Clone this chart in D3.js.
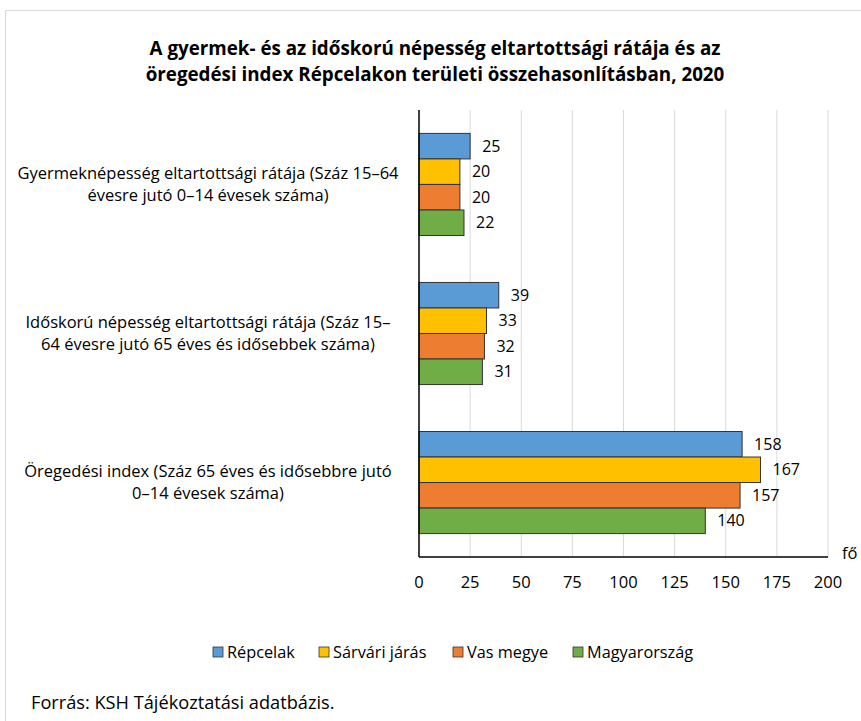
<!DOCTYPE html>
<html>
<head>
<meta charset="utf-8">
<script src="https://cdnjs.cloudflare.com/ajax/libs/d3/7.8.5/d3.min.js"></script>
<style>
  body { margin: 0; background: #fff; }
  svg text { font-family: "Open Sans", "Noto Sans", sans-serif; fill: #000; }
</style>
</head>
<body>
<svg id="chart" width="861" height="721"></svg>
<script>
var categories = [
  ["Gyermeknépesség eltartottsági rátája (Száz 15–64", "évesre jutó 0–14 évesek száma)"],
  ["Időskorú népesség eltartottsági rátája (Száz  15–", "64 évesre jutó 65 éves és idősebbek száma)"],
  ["Öregedési index (Száz 65 éves és idősebbre jutó", "0–14 évesek száma)"]
];
var seriesNames = ["Répcelak", "Sárvári járás", "Vas megye", "Magyarország"];
var seriesColors = ["#5B9BD5", "#FFC000", "#ED7D31", "#70AD47"];
var values = [
  [25, 20, 20, 22],
  [39, 33, 32, 31],
  [158, 167, 157, 140]
];
var xTicks = [0, 25, 50, 75, 100, 125, 150, 175, 200];

var svg = d3.select("#chart");

// chart frame
svg.append("rect")
  .attr("x", 5.5).attr("y", 10.5)
  .attr("width", 900).attr("height", 800)
  .attr("fill", "none").attr("stroke", "#d9d9d9");

var margin = {left: 419, right: 33, top: 110, bottom: 164};
var width = 861 - margin.left - margin.right;
var height = 721 - margin.top - margin.bottom;

var x = d3.scaleLinear().domain([0, 200]).range([0, width]);
var y0 = d3.scaleBand().domain(d3.range(categories.length)).range([0, height]).paddingInner(0.315).paddingOuter(0.157);
var y1 = d3.scaleBand().domain(d3.range(seriesNames.length)).range([0, y0.bandwidth()]);

var g = svg.append("g").attr("transform", "translate(" + margin.left + "," + margin.top + ")");

// gridlines
g.selectAll("line.grid").data(xTicks.slice(1)).enter().append("line")
  .attr("class", "grid")
  .attr("x1", function(d) { return x(d); }).attr("x2", function(d) { return x(d); })
  .attr("y1", 0).attr("y2", height)
  .attr("stroke", "#d9d9d9").attr("stroke-width", 1);

// bars
var groups = g.selectAll("g.cat").data(values).enter().append("g")
  .attr("class", "cat")
  .attr("transform", function(d, i) { return "translate(0," + y0(i) + ")"; });

groups.selectAll("rect").data(function(d) { return d; }).enter().append("rect")
  .attr("x", 0)
  .attr("y", function(d, j) { return y1(j); })
  .attr("width", function(d) { return x(d); })
  .attr("height", y1.bandwidth())
  .attr("fill", function(d, j) { return seriesColors[j]; })
  .attr("stroke", "#333").attr("stroke-width", 1);

groups.selectAll("text.val").data(function(d) { return d; }).enter().append("text")
  .attr("class", "val")
  .attr("x", function(d) { return x(d) + 12; })
  .attr("y", function(d, j) { return y1(j) + y1.bandwidth() / 2; })
  .attr("dy", "0.35em")
  .style("font-size", "16px")
  .text(function(d) { return d; });

// axes lines
g.append("line").attr("x1", 0).attr("x2", 0).attr("y1", 0).attr("y2", height)
  .attr("stroke", "#000").attr("stroke-width", 1.5);
g.append("line").attr("x1", 0).attr("x2", width).attr("y1", height).attr("y2", height)
  .attr("stroke", "#000").attr("stroke-width", 1.5);

// x tick labels
g.selectAll("text.tick").data(xTicks).enter().append("text")
  .attr("class", "tick")
  .attr("x", function(d) { return x(d); })
  .attr("y", height + 25)
  .attr("dy", "0.35em")
  .attr("text-anchor", "middle")
  .style("font-size", "16.5px")
  .text(function(d) { return d; });

g.append("text").attr("x", width + 14).attr("y", height - 4)
  .attr("dy", "0.35em")
  .style("font-size", "16.5px").text("fő");

// category labels
categories.forEach(function(lines, i) {
  var cy = margin.top + y0(i) + y0.bandwidth() / 2;
  lines.forEach(function(line, k) {
    svg.append("text")
      .attr("x", 208)
      .attr("y", cy + (k - 0.5) * 22)
      .attr("dy", "0.35em")
      .attr("text-anchor", "middle")
      .style("font-size", "16.5px")
      .text(line);
  });
});

// title
var title = ["A gyermek- és az időskorú népesség eltartottsági rátája és az",
  "öregedési index Répcelakon területi összehasonlításban, 2020"];
title.forEach(function(t, i) {
  svg.append("text").attr("x", 435).attr("y", 55 + i * 26)
    .attr("text-anchor", "middle")
    .style("font-size", "18.8px").style("font-weight", "bold")
    .text(t);
});

// legend
var legend = svg.append("g").attr("transform", "translate(0,652)");
var lx = [213, 319, 453, 573];
seriesNames.forEach(function(name, i) {
  legend.append("rect").attr("x", lx[i]).attr("y", -5).attr("width", 10).attr("height", 10)
    .attr("fill", seriesColors[i]).attr("stroke", "#333").attr("stroke-width", 0.8);
  legend.append("text").attr("x", lx[i] + 14).attr("y", 0).attr("dy", "0.35em")
    .style("font-size", "16.3px").text(name);
});

// source
svg.append("text").attr("x", 31).attr("y", 703).attr("dy", "0.35em")
  .style("font-size", "18.2px").text("Forrás: KSH Tájékoztatási adatbázis.");
</script>
</body>
</html>
